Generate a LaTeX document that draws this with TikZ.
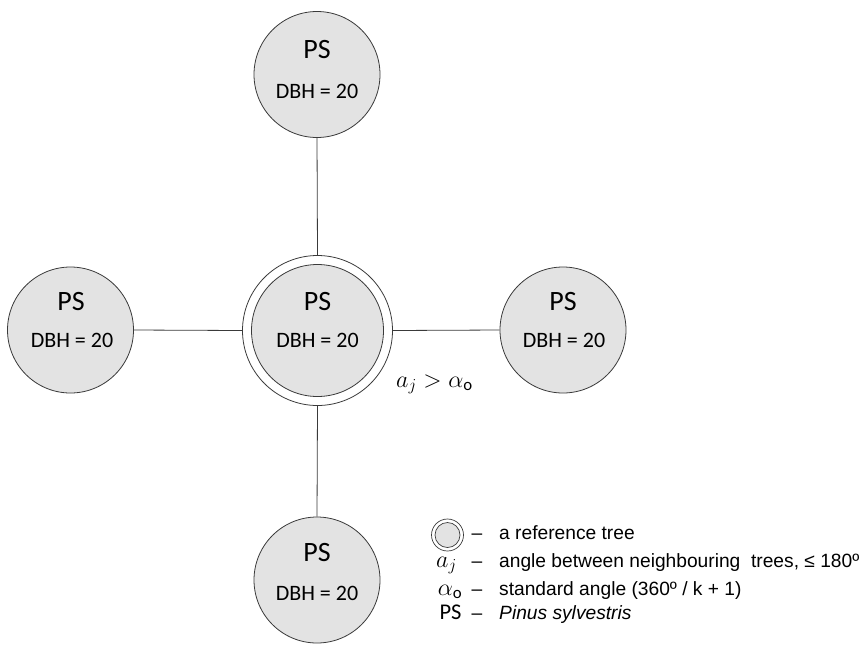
\RequirePackage{fix-cm}
\documentclass[tikz,border=0pt]{standalone}
\usepackage{fontspec}
\setmainfont{Carlito}
\newfontfamily\legendfont{Liberation Sans}
\definecolor{treefill}{HTML}{E3E3E3}
\definecolor{edge}{HTML}{3A3A3A}
\begin{document}
\begin{tikzpicture}[x=1pt,y=-1pt,
  tree/.style={circle,draw=edge,line width=0.8pt,fill=treefill,minimum size=126pt,inner sep=0pt},
  reftree/.style={circle,draw=edge,line width=0.8pt,fill=treefill,minimum size=132pt,inner sep=0pt},
  ring/.style={circle,draw=edge,line width=0.8pt,minimum size=150pt,inner sep=0pt},
  link/.style={draw=edge,line width=0.8pt},
  species/.style={font=\fontsize{28}{28}\selectfont,anchor=base,inner sep=0pt},
  dbh/.style={font=\fontsize{22}{22}\selectfont,anchor=base,inner sep=0pt},
  legtxt/.style={font=\legendfont\fontsize{19.2}{19.2}\selectfont,anchor=base west,inner sep=0pt},
  legdash/.style={font=\legendfont\fontsize{19.2}{19.2}\selectfont,anchor=base,inner sep=0pt},
  legsym/.style={font=\fontsize{24}{24}\selectfont,anchor=base,inner sep=0pt}
]
\useasboundingbox (0,0) rectangle (866,646);

% trees
\node[tree] (top) at (317,74.5) {};
\node[tree] (left) at (70.5,330) {};
\node[tree] (right) at (563,330) {};
\node[tree] (bottom) at (317,580) {};
\node[reftree] (center) at (317.5,330.5) {};
\node[ring] (ring) at (317.5,330.5) {};

% species and diameter inside each tree
\node[species] (top-ps) at (317,58) {PS};
\node[dbh] (top-dbh) at (317,98) {DBH = 20};
\node[species] (center-ps) at (317.5,310) {PS};
\node[dbh] (center-dbh) at (317.5,347) {DBH = 20};
\node[species] (left-ps) at (71,310) {PS};
\node[dbh] (left-dbh) at (72,347) {DBH = 20};
\node[species] (right-ps) at (563,310) {PS};
\node[dbh] (right-dbh) at (564,347) {DBH = 20};
\node[species] (bottom-ps) at (317,561) {PS};
\node[dbh] (bottom-dbh) at (317,600) {DBH = 20};

% connectors
\draw[link] (ring.north) -- (top.south);
\draw[link] (ring.south) -- (bottom.north);
\draw[link] (ring.west) -- (left.east);
\draw[link] (ring.east) -- (right.west);

% angle relation
\node[font=\fontsize{24}{24}\selectfont,anchor=base west,inner sep=0pt] (rel) at (396,387) {$a_j > \alpha_{\mathrm{o}}$};

% legend
\node[circle,draw=edge,line width=0.7pt,minimum size=32pt,inner sep=0pt] (lring) at (447.5,535) {};
\node[circle,draw=edge,line width=0.7pt,fill=treefill,minimum size=25pt,inner sep=0pt] (ltree) at (447.5,535) {};
\node[legdash] (d1) at (477,539) {–};
\node[legtxt] (l1) at (499,539) {a reference tree};
\node[legsym] (s2) at (446.5,567) {$a_j$};
\node[legdash] (d2) at (477,567) {–};
\node[legtxt] (l2) at (499,567) {angle between neighbouring\ \ trees, ≤ 180º};
\node[legsym] (s3) at (450,595) {$\alpha_{\mathrm{o}}$};
\node[legdash] (d3) at (477,595) {–};
\node[legtxt] (l3) at (499,595) {standard angle (360º / k + 1)};
\node[species,font=\fontsize{22.5}{22.5}\selectfont] (s4) at (450.5,619) {PS};
\node[legdash] (d4) at (477,619) {–};
\node[legtxt] (l4) at (499,619) {\textit{Pinus sylvestris}};
\end{tikzpicture}
\end{document}
